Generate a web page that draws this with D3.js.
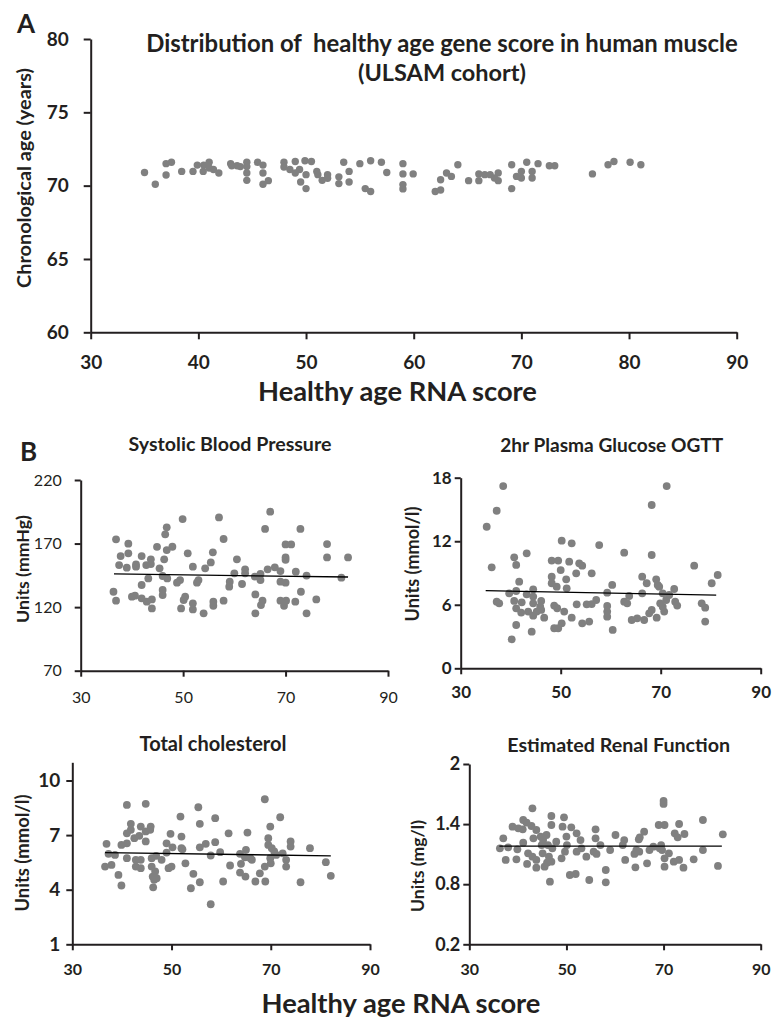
<!DOCTYPE html>
<html>
<head>
<meta charset="utf-8">
<script src="https://cdn.jsdelivr.net/npm/d3@7"></script>
<style>
  html, body { margin: 0; padding: 0; background: #fff; }
  svg text { font-family: Lato, "Open Sans", sans-serif; fill: #231f20; white-space: pre; }
</style>
</head>
<body>
<svg id="chart" width="772" height="1026"></svg>
<script>
// ---------------- DATA ----------------
// Panel A: [healthy age RNA score, chronological age]
const ageData = [
  [35.0,70.9],[36.0,70.1],[37.0,70.73],[37.0,71.5],[37.5,71.6],[38.45,70.97],[39.5,70.97],[39.9,71.4],
  [40.45,70.97],[40.5,71.4],[41.0,71.6],[41.0,71.2],[41.4,71.1],[41.9,70.86],[43.0,71.5],[43.1,71.36],
  [43.6,71.36],[43.9,71.3],[44.5,71.6],[44.5,71.3],[44.5,70.86],[44.5,70.36],[45.5,71.6],[46.0,71.4],
  [46.0,70.86],[46.0,70.1],[46.5,70.34],[47.95,71.6],[47.95,71.27],[48.5,71.1],[49.0,71.65],[49.0,70.86],
  [49.4,71.1],[49.5,70.25],[49.9,71.7],[50.0,70.75],[50.0,69.8],[50.5,71.65],[51.0,70.97],[51.1,70.75],
  [51.5,70.36],[52.0,70.75],[52.0,70.5],[53.05,70.6],[53.05,70.14],[53.5,71.6],[54.0,70.97],[54.0,70.25],
  [55.0,71.5],[55.5,69.8],[56.0,69.6],[56.0,71.7],[57.0,71.6],[57.5,70.9],[59.0,71.5],[59.0,70.8],
  [59.0,70.07],[59.0,69.78],[59.95,70.8],[62.0,69.6],[62.5,69.7],[62.5,70.4],[63.05,70.86],[63.5,70.63],
  [64.1,71.43],[65.1,70.34],[66.05,70.8],[66.05,70.34],[66.6,70.75],[67.1,70.75],[67.5,70.52],[67.85,70.86],
  [67.85,70.34],[69.1,71.43],[69.1,69.8],[69.55,70.63],[70.0,70.97],[70.0,70.52],[70.5,71.6],[71.0,70.97],
  [71.0,70.52],[71.55,71.5],[72.6,71.36],[73.1,71.36],[76.6,70.8],[78.05,71.43],[78.6,71.65],[80.1,71.6],
  [81.1,71.43]
];

// Panel B: [healthy age RNA score, value]
const sbpData = [
  [36.4,132.1],[36.9,125.1],[36.9,173.3],[37.5,153.1],[37.8,160.2],[39.0,151.0],[39.3,169.9],[39.3,162.3],
  [40.0,128.2],[40.6,129.0],[40.8,151.8],[40.8,153.6],[41.9,160.2],[41.9,137.4],[41.9,126.9],[42.8,153.1],
  [42.9,124.3],[43.2,142.6],[43.7,157.6],[43.7,153.9],[43.9,126.1],[43.9,119.0],[44.9,167.4],[45.4,150.5],
  [46.0,133.5],[46.0,129.5],[46.0,144.5],[46.3,157.6],[46.5,177.3],[46.8,182.8],[46.8,164.9],[46.9,142.6],
  [47.9,167.5],[48.8,139.2],[49.4,141.3],[49.6,119.0],[49.9,189.3],[50.1,125.6],[50.4,128.2],[50.9,162.3],
  [51.9,151.8],[51.9,123.0],[51.9,118.2],[52.7,139.2],[53.0,141.3],[54.0,115.1],[54.3,150.5],[55.4,155.2],
  [55.8,163.1],[55.9,124.3],[55.9,121.1],[57.0,190.6],[57.9,173.6],[57.9,125.1],[59.0,136.1],[59.1,140.0],
  [60.0,146.6],[60.5,157.6],[61.5,138.2],[62.1,149.7],[62.1,146.6],[64.0,144.0],[64.1,130.0],[64.1,115.1],
  [65.1,146.1],[65.1,141.3],[65.2,121.6],[65.5,125.1],[66.0,181.5],[66.5,149.7],[67.0,195.1],[67.9,151.3],
  [69.0,148.4],[69.0,140.0],[69.0,125.1],[69.7,121.1],[70.0,159.1],[70.0,157.2],[70.0,139.2],[70.0,169.3],
  [70.1,125.1],[71.1,169.3],[71.9,124.3],[72.0,147.9],[72.9,181.5],[73.0,132.1],[74.1,144.8],[74.1,115.1],
  [76.0,126.1],[78.1,169.6],[78.1,159.1],[80.9,143.2],[82.2,159.1]
];
const glucoseData = [
  [35.2,13.37],[36.2,9.54],[37.2,14.88],[37.2,6.29],[37.7,6.14],[38.5,17.21],[39.7,7.08],[40.2,2.74],
  [40.7,10.48],[40.7,6.36],[41.1,9.76],[41.1,7.30],[41.1,5.66],[41.1,4.09],[41.7,8.18],[42.1,5.26],
  [42.2,6.23],[43.2,10.86],[43.2,6.99],[43.5,5.36],[44.2,3.46],[44.5,7.46],[44.5,6.77],[44.5,6.14],
  [44.5,4.97],[45.2,5.36],[45.9,5.82],[46.1,6.36],[46.1,5.51],[46.7,4.78],[48.2,10.17],[48.2,8.65],
  [48.2,8.03],[48.7,5.92],[48.7,3.78],[49.2,7.71],[49.3,5.67],[49.5,10.17],[49.5,3.78],[50.0,9.28],
  [50.2,12.05],[50.2,4.25],[50.7,5.36],[51.1,8.40],[51.2,7.55],[51.7,10.07],[52.2,11.80],[52.2,4.78],
  [53.1,8.97],[53.2,6.04],[53.7,9.91],[54.3,9.69],[54.3,4.25],[55.2,6.04],[55.7,4.41],[56.2,8.97],
  [56.2,6.07],[57.1,6.45],[57.7,11.64],[59.3,5.89],[59.3,5.36],[59.3,4.88],[59.3,7.14],[60.3,7.87],
  [60.4,3.62],[62.7,10.92],[62.7,6.29],[63.3,6.14],[63.7,6.83],[64.2,4.56],[65.3,4.72],[66.3,8.65],
  [66.3,7.08],[66.7,4.56],[67.2,8.03],[67.7,5.19],[68.2,15.42],[68.2,10.70],[68.2,5.51],[69.1,8.40],
  [69.2,4.78],[69.4,7.87],[69.7,7.71],[69.9,6.14],[70.4,7.08],[70.4,5.82],[70.7,5.36],[71.1,6.45],
  [71.2,17.21],[71.7,6.92],[72.7,7.49],[72.9,6.29],[73.3,5.92],[76.7,9.69],[78.2,6.14],[78.9,5.73],
  [78.9,4.41],[80.2,8.03],[81.4,8.81]
];
const cholesterolData = [
  [36.6,5.27],[36.9,6.52],[37.3,5.97],[37.9,5.36],[38.6,5.91],[39.3,4.81],[39.9,4.23],[39.9,6.46],
  [41.0,8.66],[41.0,6.55],[41.0,5.73],[41.0,7.10],[41.8,7.62],[41.8,7.29],[42.5,6.83],[42.8,5.64],
  [42.8,5.27],[43.5,6.96],[43.8,7.47],[43.8,5.64],[43.8,5.18],[44.8,8.72],[44.8,7.20],[44.8,6.65],
  [45.7,7.29],[45.8,7.47],[46.0,5.73],[46.0,5.27],[46.2,4.72],[46.3,4.13],[46.5,4.54],[46.7,5.00],
  [46.9,5.86],[47.0,4.63],[48.0,5.64],[49.0,6.55],[49.0,6.04],[49.4,5.18],[49.8,7.07],[50.0,5.27],
  [50.2,6.33],[51.8,8.02],[52.0,6.92],[52.0,6.28],[52.2,6.22],[52.8,5.45],[53.9,4.08],[54.4,4.87],
  [55.4,8.53],[55.7,6.33],[55.7,7.62],[55.7,4.41],[56.9,6.52],[57.9,5.88],[57.9,3.20],[58.8,6.61],
  [58.8,7.93],[59.8,6.06],[60.4,4.45],[61.5,7.10],[61.8,5.33],[63.8,5.97],[64.0,5.42],[63.8,4.94],
  [64.8,5.78],[64.9,4.72],[65.0,6.19],[65.3,7.14],[65.9,5.73],[66.2,5.64],[66.9,4.45],[67.8,4.90],
  [68.8,8.97],[68.8,5.27],[68.9,4.45],[69.5,6.83],[69.5,6.46],[69.9,7.47],[69.9,5.73],[70.0,5.45],
  [70.2,6.28],[70.7,6.10],[71.1,5.91],[71.9,7.98],[72.4,6.00],[73.1,5.27],[73.1,5.64],[74.0,6.65],
  [74.0,6.37],[76.0,4.41],[77.9,6.28],[81.1,5.51],[82.1,4.76]
];
const renalData = [
  [36.3,1.158],[37.0,1.258],[37.5,1.042],[38.0,1.168],[38.9,1.374],[39.7,1.048],[39.9,1.148],[40.1,1.358],
  [41.0,1.348],[41.1,1.441],[41.1,1.215],[41.8,1.414],[41.9,1.002],[42.1,1.108],[42.8,1.381],[43.0,1.557],
  [43.0,1.075],[43.2,1.258],[43.8,1.341],[43.8,1.042],[43.8,0.965],[44.7,1.275],[44.9,1.191],[45.1,1.108],
  [45.2,1.241],[45.5,0.975],[45.9,1.291],[46.0,1.015],[46.2,1.191],[46.4,1.075],[46.6,0.825],[46.9,1.481],
  [46.9,1.391],[46.9,1.025],[47.1,1.158],[47.9,1.225],[49.0,1.058],[49.2,1.374],[49.5,1.468],[49.7,1.125],
  [50.0,1.275],[50.1,1.191],[50.7,0.892],[51.0,1.368],[51.9,0.902],[52.1,1.308],[52.1,1.125],[52.9,1.241],
  [53.1,1.158],[54.1,1.075],[54.7,0.842],[55.6,1.125],[56.0,1.258],[56.0,1.348],[56.2,1.102],[57.0,1.191],
  [58.1,0.942],[58.1,0.819],[59.0,1.141],[60.1,1.291],[61.6,1.191],[61.9,1.241],[62.1,1.042],[64.0,1.102],
  [64.2,0.968],[64.4,1.141],[64.9,1.248],[65.0,1.125],[65.1,1.268],[66.0,1.324],[66.6,1.008],[67.1,1.141],
  [67.9,1.175],[69.0,1.391],[69.2,1.158],[69.5,1.191],[69.7,1.141],[70.0,1.631],[70.0,1.601],[70.2,1.391],
  [70.2,1.058],[70.2,0.975],[71.1,1.108],[72.1,1.025],[72.3,1.308],[72.9,1.268],[73.2,1.401],[73.2,1.042],
  [74.1,0.965],[74.3,1.301],[76.2,1.048],[78.1,1.441],[78.1,1.141],[81.2,0.982],[82.2,1.298]
];

// Trend lines: [[x0,y0],[x1,y1]]
const sbpFit = [[36.5,146.1],[82.2,143.7]];
const glucoseFit = [[35.0,7.33],[81.1,6.92]];
const cholesterolFit = [[36.6,6.04],[82.1,5.86]];
const renalFit = [[36.2,1.18],[82.0,1.18]];

// Ticks
const scoreTicksA = [30,40,50,60,70,80,90];
const ageTicks = [60,65,70,75,80];
const scoreTicksB = [30,50,70,90];
const sbpTicks = [70,120,170,220];
const glucoseTicks = [0,6,12,18];
const cholesterolTicks = [1,4,7,10];
const renalTicks = [0.2,0.8,1.4,2];

// Texts
const titleA = ["Distribution of  healthy age gene score in human muscle", "(ULSAM cohort)"];
const yLabelA = "Chronological age (years)";
const xLabel = "Healthy age RNA score";
const panelTitles = ["Systolic Blood Pressure","2hr Plasma Glucose OGTT","Total cholesterol","Estimated Renal Function"];
const panelYLabels = ["Units (mmHg)","Units (mmol/l)","Units (mmol/l)","Units (mg/l)"];

// ---------------- DRAWING ----------------
const svg = d3.select("#chart");
const DOT = "#808080";
const INK = "#231f20";

function fitText(sel, target) {
  const w = sel.node().getComputedTextLength();
  const fs = parseFloat(sel.attr("font-size"));
  if (w > 0) sel.attr("font-size", (fs * target / w).toFixed(2));
  return sel;
}
function label(x, y, txt, size, weight, anchor, target, rotate) {
  const t = svg.append("text")
    .attr("font-size", size).attr("font-weight", weight)
    .attr("text-anchor", anchor).text(txt);
  if (rotate) t.attr("transform", `translate(${x},${y}) rotate(-90)`);
  else t.attr("x", x).attr("y", y);
  if (target) fitText(t, target);
  return t;
}
function styleAxis(g, fontSize, weight, strokeW) {
  g.select(".domain").attr("stroke", INK).attr("stroke-width", strokeW);
  g.selectAll(".tick line").attr("stroke", INK).attr("stroke-width", strokeW);
  g.selectAll(".tick text").attr("font-size", fontSize).attr("font-weight", weight)
    .attr("fill", INK).style("font-family", 'Lato, "Open Sans", sans-serif');
}

// Panel A
label(17, 33, "A", 26, "bold", "start");
const xA = d3.scaleLinear().domain([30, 90]).range([90.7, 736.7]);
const yA = d3.scaleLinear().domain([60, 80]).range([332.3, 39]);

const gAx = svg.append("g").attr("transform", `translate(0,${yA(60)})`)
  .call(d3.axisBottom(xA).tickValues(scoreTicksA).tickFormat(d3.format("d")).tickSize(7).tickSizeOuter(0).tickPadding(16));
styleAxis(gAx, 19, "bold", 2);
const gAy = svg.append("g").attr("transform", `translate(${xA(30)},0)`)
  .call(d3.axisLeft(yA).tickValues(ageTicks).tickFormat(d3.format("d")).tickSize(7).tickSizeOuter(0).tickPadding(15));
styleAxis(gAy, 19, "bold", 2);

svg.append("g").selectAll("circle").data(ageData).join("circle")
  .attr("cx", d => xA(d[0])).attr("cy", d => yA(d[1])).attr("r", 3.7).attr("fill", DOT);

label(442, 51.5, titleA[0], 21, "bold", "middle", 592);
label(442, 81, titleA[1], 21, "bold", "middle", 168);
label(31, 178, yLabelA, 17, "bold", "middle", 220, true);
label(397.5, 401, xLabel, 26, "bold", "middle", 279);

// Panel B
label(20, 460.5, "B", 26, "bold", "start");

const panels = [
  { data: sbpData, fit: sbpFit, ticks: sbpTicks, ydom: [70, 220], xr: [80.7, 388], yr: [670.7, 480],
    tfs: 16, tfw: "normal", yfs: 16, ypad: 13, xpad: 15, fmt: d3.format("d"),
    title: [230, 451, 203], ylab: [29, 569, 108] },
  { data: glucoseData, fit: glucoseFit, ticks: glucoseTicks, ydom: [0, 18], xr: [460.7, 760.7], yr: [668.3, 477.7],
    tfs: 17, tfw: "bold", yfs: 17, ypad: 3, xpad: 12, fmt: d3.format("d"),
    title: [611.7, 452, 223], ylab: [419, 564, 115] },
  { data: cholesterolData, fit: cholesterolFit, ticks: cholesterolTicks, ydom: [1, 11], xr: [72.3, 370], yr: [944.3, 762.3],
    tfs: 16, tfw: "bold", yfs: 19, ypad: 6, xpad: 13, fmt: d3.format("d"),
    title: [213, 751, 147], ylab: [29, 853, 117] },
  { data: renalData, fit: renalFit, ticks: renalTicks, ydom: [0.2, 2], xr: [469.3, 760.7], yr: [944.3, 764],
    tfs: 16, tfw: "bold", yfs: 18, ypad: 3, xpad: 13, fmt: d => (d === 2 ? "2" : d3.format(".1f")(d)),
    title: [618.7, 752, 223], ylab: [424, 866, 92] }
];

panels.forEach((p, i) => {
  const x = d3.scaleLinear().domain([30, 90]).range(p.xr);
  const y = d3.scaleLinear().domain(p.ydom).range(p.yr);
  const gx = svg.append("g").attr("transform", `translate(0,${p.yr[0]})`)
    .call(d3.axisBottom(x).tickValues(scoreTicksB).tickFormat(d3.format("d")).tickSize(6).tickSizeOuter(0).tickPadding(p.xpad));
  styleAxis(gx, p.tfs, p.tfw, 2);
  const gy = svg.append("g").attr("transform", `translate(${p.xr[0]},0)`)
    .call(d3.axisLeft(y).tickValues(p.ticks).tickFormat(p.fmt).tickSize(6).tickSizeOuter(0).tickPadding(p.ypad));
  styleAxis(gy, p.yfs, p.tfw, 2);

  svg.append("g").selectAll("circle").data(p.data).join("circle")
    .attr("cx", d => x(d[0])).attr("cy", d => y(d[1])).attr("r", 3.9).attr("fill", DOT);

  svg.append("path").datum(p.fit)
    .attr("d", d3.line().x(d => x(d[0])).y(d => y(d[1])))
    .attr("stroke", "#000").attr("stroke-width", 1.3).attr("fill", "none");

  label(p.title[0], p.title[1], panelTitles[i], 16, "bold", "middle", p.title[2]);
  label(p.ylab[0], p.ylab[1], panelYLabels[i], 16, "bold", "middle", p.ylab[2], true);
});

label(401, 1013, xLabel, 26, "bold", "middle", 279);
</script>
</body>
</html>
